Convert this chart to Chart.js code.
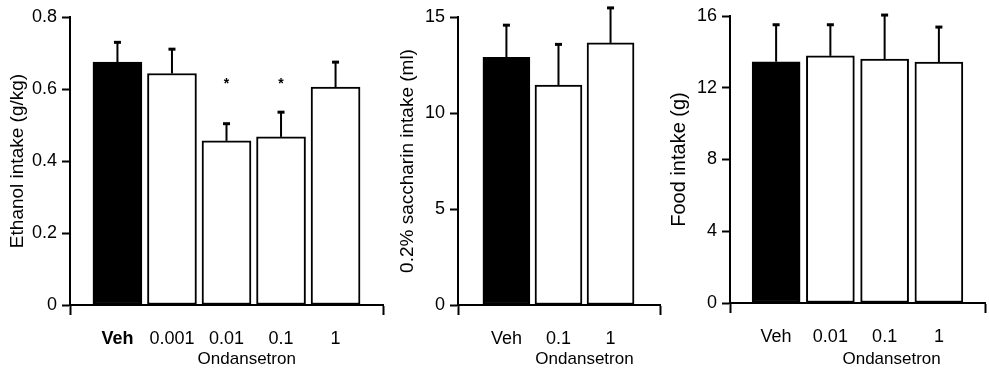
<!DOCTYPE html>
<html>
<head>
<meta charset="utf-8">
<script src="https://cdn.jsdelivr.net/npm/chart.js@4/dist/chart.umd.min.js"></script>
<style>
  html, body { margin: 0; padding: 0; background: #fff; }
  #wrap { position: relative; width: 989px; height: 371px; }
  .panel { position: absolute; top: 0; height: 371px; }
</style>
</head>
<body>
<div id="wrap">
  <div class="panel" style="left:0;width:390px"><canvas id="ethanol"></canvas></div>
  <div class="panel" style="left:390px;width:275px"><canvas id="saccharin"></canvas></div>
  <div class="panel" style="left:665px;width:324px"><canvas id="food"></canvas></div>
</div>
<script>
// values (mean and upward SEM)
const ethanolLabels = ['Veh', '0.001', '0.01', '0.1', '1'];
const ethanolMeans = [0.675, 0.643, 0.456, 0.467, 0.605];
const ethanolSem = [0.056, 0.069, 0.049, 0.070, 0.071];
const ethanolSig = ['', '', '*', '*', ''];

const saccharinLabels = ['Veh', '0.1', '1'];
const saccharinMeans = [12.9, 11.45, 13.65];
const saccharinSem = [1.7, 2.15, 1.85];

const foodLabels = ['Veh', '0.01', '0.1', '1'];
const foodMeans = [13.45, 13.78, 13.6, 13.43];
const foodSem = [2.09, 1.76, 2.48, 1.98];

const FONT = '"Liberation Sans", Helvetica, Arial, sans-serif';

// error bars, significance stars and the "Ondansetron" label under the dose ticks
const extras = {
  id: 'extras',
  afterDatasetsDraw(chart, args, opts) {
    const { ctx, scales: { x, y } } = chart;
    const ds = chart.data.datasets[0];
    ctx.save();
    ctx.fillStyle = '#000';
    ds.data.forEach((p, i) => {
      const cx = x.getPixelForValue(p.x);
      const base = y.getPixelForValue(p.y);
      const top = y.getPixelForValue(p.y + ds.sem[i]);
      ctx.fillRect(cx - 1, top, 2, base - top);
      ctx.fillRect(cx - 3.5, top - 1, 7, 3);
      if (ds.sig && ds.sig[i]) {
        ctx.font = `bold 14px ${FONT}`;
        ctx.textAlign = 'center';
        ctx.textBaseline = 'alphabetic';
        ctx.fillText(ds.sig[i], cx, y.getPixelForValue(opts.sigLevel) + 8);
      }
    });
    const doses = ds.data.slice(1).map(p => x.getPixelForValue(p.x));
    const mid = doses.reduce((a, b) => a + b, 0) / doses.length;
    ctx.font = `17px ${FONT}`;
    ctx.textAlign = 'center';
    ctx.textBaseline = 'middle';
    ctx.fillText(opts.groupLabel, mid + opts.groupShift, opts.groupY);
    ctx.restore();
  }
};

function makePanel(id, o) {
  const n = o.labels.length;
  return new Chart(document.getElementById(id), {
    type: 'bar',
    data: {
      datasets: [{
        data: o.means.map((v, i) => ({ x: i, y: v })),
        sem: o.sem,
        sig: o.sig,
        backgroundColor: o.labels.map((l, i) => i === 0 ? '#000' : '#fff'),
        borderColor: '#000',
        borderWidth: 2,
        borderSkipped: false,
        barThickness: o.barWidth
      }]
    },
    options: {
      responsive: true,
      maintainAspectRatio: false,
      animation: false,
      events: [],
      layout: { padding: { top: o.padTop, right: o.padRight, left: 0, bottom: 0 } },
      plugins: {
        legend: { display: false },
        tooltip: { enabled: false },
        extras: { sigLevel: o.sigLevel || 0, groupLabel: 'Ondansetron', groupY: 359, groupShift: o.groupShift || 0 }
      },
      scales: {
        x: {
          type: 'linear',
          min: o.xMin,
          max: o.xMax,
          offset: false,
          afterBuildTicks(s) {
            s.ticks = [s.min, ...o.labels.map((l, i) => i), s.max].map(v => ({ value: v }));
          },
          afterFit(s) {
            s.height = o.xHeight;
            s.paddingLeft = 0;
            s.paddingRight = 0;
          },
          ticks: {
            autoSkip: false,
            maxRotation: 0,
            color: '#000',
            padding: 13,
            font: c => ({ family: FONT, size: 18, weight: (o.boldVeh && c.index === 1) ? 'bold' : 'normal' }),
            callback: (v, i, t) => (i === 0 || i === t.length - 1) ? '' : o.labels[v]
          },
          grid: {
            offset: false,
            drawOnChartArea: false,
            tickLength: 10,
            tickWidth: 2,
            tickColor: c => (c.index === 0 || c.index === n + 1) ? '#000' : 'rgba(0,0,0,0)'
          },
          border: { color: '#000', width: 2 }
        },
        y: {
          min: 0,
          max: o.yMax,
          afterFit(s) { s.width = o.yWidth; },
          ticks: { stepSize: o.yStep, color: '#000', padding: 5, font: { family: FONT, size: 18 } },
          grid: { drawOnChartArea: false, tickLength: 8, tickWidth: 2, tickColor: '#000' },
          border: { color: '#000', width: 2 },
          title: {
            display: true,
            text: o.yTitle,
            color: '#000',
            font: { family: FONT, size: o.titleSize },
            padding: { top: o.titlePad, bottom: 0 }
          }
        }
      }
    },
    plugins: [extras]
  });
}

makePanel('ethanol', {
  labels: ethanolLabels, means: ethanolMeans, sem: ethanolSem, sig: ethanolSig, sigLevel: 0.625,
  yMax: 0.8, yStep: 0.2, yTitle: 'Ethanol intake (g/kg)', boldVeh: true,
  xMin: -0.87, xMax: 4.87, barWidth: 49, groupShift: -7,
  yWidth: 70, xHeight: 66, padTop: 17, padRight: 7, titlePad: 6, titleSize: 19
});

makePanel('saccharin', {
  labels: saccharinLabels, means: saccharinMeans, sem: saccharinSem,
  yMax: 15, yStep: 5, yTitle: '0.2% saccharin intake (ml)',
  xMin: -0.93, xMax: 2.95, barWidth: 47,
  yWidth: 68, xHeight: 66, padTop: 17, padRight: 5, titlePad: 6, titleSize: 19
});

makePanel('food', {
  labels: foodLabels, means: foodMeans, sem: foodSem,
  yMax: 16, yStep: 4, yTitle: 'Food intake (g)',
  xMin: -0.85, xMax: 3.85, barWidth: 48, groupShift: 7,
  yWidth: 65, xHeight: 68, padTop: 16, padRight: 4, titlePad: 2, titleSize: 20
});
</script>
</body>
</html>
